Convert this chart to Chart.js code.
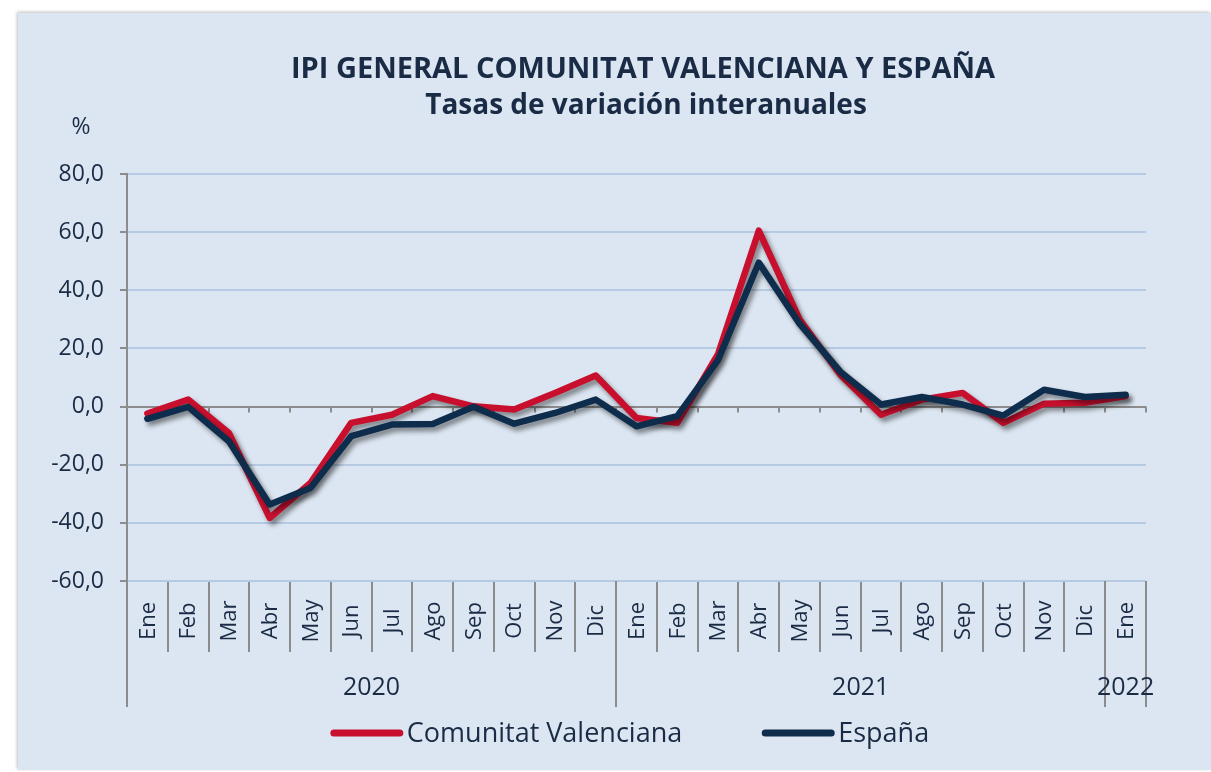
<!DOCTYPE html>
<html><head><meta charset="utf-8">
<script src="https://cdn.jsdelivr.net/npm/chart.js@4.4.1/dist/chart.umd.min.js"></script>
<style>
html,body{margin:0;padding:0;background:#fff;width:1211px;height:772px;overflow:hidden}
#frame{position:absolute;left:18px;top:13px;width:1193px;height:757px;background:#dce6f2;box-shadow:-1px -1px 3px rgba(0,0,0,0.25)}
canvas{display:block}
</style></head><body>
<div id="frame"><canvas id="c" width="1193" height="757"></canvas></div>
<script>
// ---- data ----
const months = ['Ene','Feb','Mar','Abr','May','Jun','Jul','Ago','Sep','Oct','Nov','Dic',
                'Ene','Feb','Mar','Abr','May','Jun','Jul','Ago','Sep','Oct','Nov','Dic','Ene'];
const years = ['2020','2021','2022'];
const yearSpans = [12, 12, 1];
const cvValues = [-2.4, 2.4, -9.1, -38.3, -26.3, -5.6, -2.8, 3.6, 0.1, -1.0, 4.7, 10.7,
                  -3.9, -5.6, 18.0, 60.5, 30.0, 11.0, -2.8, 2.4, 4.7, -5.6, 1.0, 1.3, 3.6];
const esValues = [-4.2, -0.1, -11.9, -33.7, -28.0, -10.2, -6.2, -6.0, -0.1, -5.9, -2.2, 2.4,
                  -6.8, -3.3, 16.0, 49.5, 28.5, 12.0, 0.7, 3.3, 0.7, -3.1, 5.8, 3.3, 4.1];
const seriesNames = ['Comunitat Valenciana', 'España'];
const titleLines = ['IPI GENERAL COMUNITAT VALENCIANA Y ESPAÑA', 'Tasas de variación interanuales'];
const unitLabel = '%';
const yMin = -60, yMax = 80, yStep = 20;

// ---- style ----
const FONT = '"Open Sans", "Noto Sans", sans-serif';
const TXT = '#1a2b45';
const RED = '#c8102e';
const NAVY = '#0e2c4b';
const GRAY = '#8c8c8c';
const GRID = '#b7cae3';

const decor = {
  id: 'decor',
  beforeDatasetsDraw(chart) {
    const ctx = chart.ctx, xs = chart.scales.x, ys = chart.scales.y;
    const y0 = ys.getPixelForValue(0);
    ctx.save();
    ctx.strokeStyle = GRAY; ctx.lineWidth = 2;
    for (let k = 0; k <= months.length; k++) {
      const x = Math.round(xs.getPixelForValue(k - 0.5));
      ctx.beginPath(); ctx.moveTo(x, y0); ctx.lineTo(x, y0 + 6); ctx.stroke();
    }
    ctx.restore();
  },
  beforeDatasetDraw(chart) {
    const ctx = chart.ctx;
    ctx.save();
    ctx.shadowColor = 'rgba(0,0,0,0.45)';
    ctx.shadowBlur = 5; ctx.shadowOffsetX = 3; ctx.shadowOffsetY = 4;
  },
  afterDatasetDraw(chart) { chart.ctx.restore(); },
  afterDraw(chart) {
    const ctx = chart.ctx, xs = chart.scales.x, area = chart.chartArea;
    ctx.save();
    ctx.fillStyle = TXT;
    // title
    ctx.textAlign = 'center'; ctx.textBaseline = 'middle';
    ctx.font = 'bold 29px ' + FONT;
    ctx.fillText(titleLines[0], 625, 57);
    ctx.font = 'bold 28px ' + FONT;
    ctx.fillText(titleLines[1], 628, 93);
    // unit
    ctx.font = '23px ' + FONT;
    ctx.fillText(unitLabel, 63, 114);
    // month labels
    ctx.font = '22px ' + FONT;
    months.forEach((m, i) => {
      const x = xs.getPixelForValue(i);
      ctx.save(); ctx.translate(x + 1, 608); ctx.rotate(-Math.PI / 2);
      ctx.fillText(m, 0, 0); ctx.restore();
    });
    // year separators and labels
    ctx.strokeStyle = GRAY; ctx.lineWidth = 2;
    let k = 0;
    const bounds = [0];
    yearSpans.forEach(s => { k += s; bounds.push(k); });
    bounds.forEach(b => {
      const x = Math.round(xs.getPixelForValue(b - 0.5));
      ctx.beginPath(); ctx.moveTo(x, area.bottom); ctx.lineTo(x, 694); ctx.stroke();
    });
    ctx.font = '25px ' + FONT;
    years.forEach((yr, i) => {
      const xa = xs.getPixelForValue(bounds[i] - 0.5), xb = xs.getPixelForValue(bounds[i + 1] - 0.5);
      ctx.fillText(yr, (xa + xb) / 2, 675);
    });
    // legend
    ctx.font = '27px ' + FONT;
    const lineW = 72, gap = 4, itemGap = 80, ly = 720;
    const widths = seriesNames.map(n => lineW + gap + ctx.measureText(n).width);
    const total = widths.reduce((a, b) => a + b, 0) + itemGap * (seriesNames.length - 1);
    let lx = 612 - total / 2;
    const cols = [RED, NAVY];
    ctx.textAlign = 'left';
    seriesNames.forEach((n, i) => {
      ctx.strokeStyle = cols[i]; ctx.lineWidth = 7; ctx.lineCap = 'round';
      ctx.beginPath(); ctx.moveTo(lx + 3, ly); ctx.lineTo(lx + lineW - 3, ly); ctx.stroke();
      ctx.fillStyle = TXT;
      ctx.fillText(n, lx + lineW + gap, ly + 1);
      lx += widths[i] + itemGap;
    });
    ctx.restore();
  }
};

new Chart(document.getElementById('c'), {
  type: 'line',
  data: {
    labels: months,
    datasets: [
      { label: seriesNames[0], data: cvValues, borderColor: RED, backgroundColor: RED,
        borderWidth: 6.5, pointRadius: 0, tension: 0, order: 1,
        borderJoinStyle: 'round', borderCapStyle: 'round' },
      { label: seriesNames[1], data: esValues, borderColor: NAVY, backgroundColor: NAVY,
        borderWidth: 6.5, pointRadius: 0, tension: 0, order: 0,
        borderJoinStyle: 'round', borderCapStyle: 'round' }
    ]
  },
  options: {
    responsive: false,
    animation: false,
    events: [],
    layout: { padding: { top: 161, right: 65, bottom: 0, left: 0 } },
    plugins: { legend: { display: false }, title: { display: false }, tooltip: { enabled: false } },
    scales: {
      x: {
        offset: true,
        afterFit(s) { s.height = 189; },
        grid: { offset: true, drawOnChartArea: false, drawTicks: true, tickLength: 71, color: GRAY, lineWidth: 2 },
        border: { display: false },
        ticks: { display: false }
      },
      y: {
        min: yMin, max: yMax,
        afterFit(s) { s.width = 109; },
        ticks: { stepSize: yStep, padding: 16, color: TXT, font: { family: FONT, size: 23 },
                 callback: v => v.toFixed(1).replace('.', ',') },
        grid: { color: c => (c.tick && c.tick.value === 0) ? GRAY : GRID, lineWidth: 2,
                tickLength: 7, tickColor: GRAY },
        border: { display: true, color: GRAY, width: 2 }
      }
    }
  },
  plugins: [decor]
});
</script>
</body></html>
